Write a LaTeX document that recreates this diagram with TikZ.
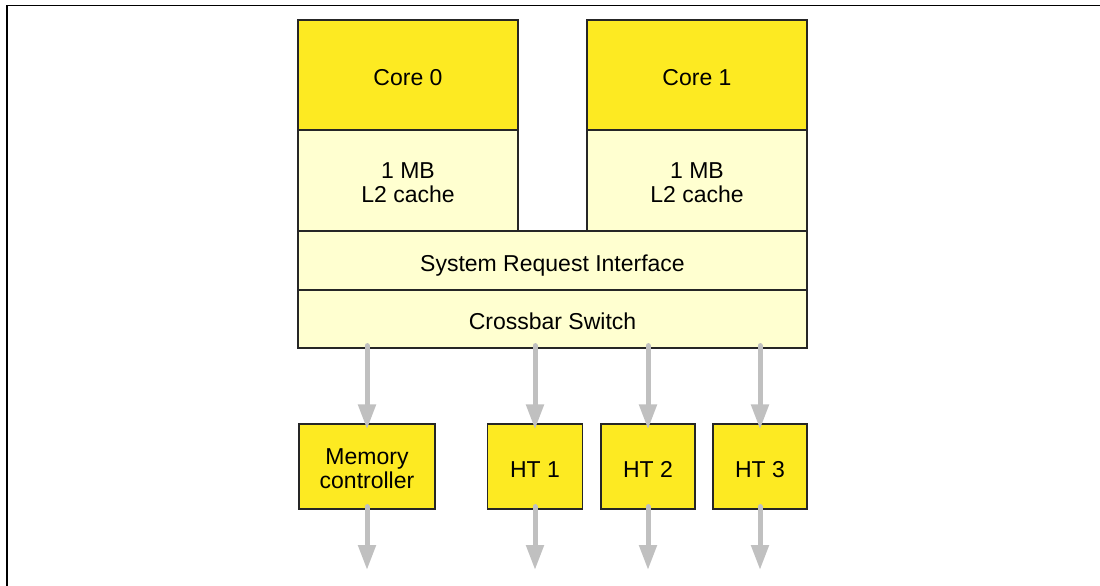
\documentclass[tikz,border=0pt]{standalone}
\usepackage{fontspec}
\setmainfont{Liberation Sans}
\definecolor{coreyellow}{RGB}{253, 234, 34}
\definecolor{cachecream}{RGB}{255, 255, 208}
\definecolor{linkgray}{RGB}{192, 192, 192}
\usetikzlibrary{arrows.meta, positioning, calc}

\begin{document}
\begin{tikzpicture}[x=1pt, y=-1pt,
  unitbox/.style={draw=black!85, line width=1.2pt, fill=coreyellow, inner sep=0pt, align=center, font=\fontsize{23}{24.5}\selectfont},
  cachebox/.style={unitbox, fill=cachecream},
  onerow/.style={text height=21.5pt, text depth=0pt},
  tworow/.style={text height=44.5pt, text depth=0pt},
  hlink/.style={draw=linkgray, line width=5pt, line cap=round, -{Triangle[width=17pt, length=25pt]}, shorten <=-3pt}
]
  \useasboundingbox (0,0) rectangle (1100,586);
  % Frame
  \draw[line width=1.3pt] (7,586) -- (7,5.3) -- (1100,5.3);

  % Cores and caches
  \node[unitbox, onerow, minimum width=220pt, minimum height=110pt] (core0) at (408,75) {Core 0};
  \node[unitbox, onerow, minimum width=220pt, minimum height=110pt] (core1) at (697,75) {Core 1};
  \node[cachebox, tworow, minimum width=220pt, minimum height=101pt] (l2a) at (408,180.5) {1 MB\\L2 cache};
  \node[cachebox, tworow, minimum width=220pt, minimum height=101pt] (l2b) at (697,180.5) {1 MB\\L2 cache};

  % Shared parts
  \node[cachebox, onerow, minimum width=509pt, minimum height=59pt] (sri) at (552.5,260.5) {System Request Interface};
  \node[cachebox, onerow, minimum width=509pt, minimum height=58pt] (xbar) at (552.5,319) {Crossbar Switch};

  % Links
  \node[unitbox, tworow, minimum width=136pt, minimum height=85pt] (mc) at (367,466.5) {Memory\\controller};
  \node[unitbox, onerow, minimum width=95pt, minimum height=85pt] (ht1) at (535,466.5) {HT 1};
  \node[unitbox, onerow, minimum width=94pt, minimum height=85pt] (ht2) at (648,466.5) {HT 2};
  \node[unitbox, onerow, minimum width=94pt, minimum height=85pt] (ht3) at (760,466.5) {HT 3};

  \coordinate (bottom) at (0,570);
  \foreach \u in {mc, ht1, ht2, ht3} {
    \draw[hlink, shorten >=-6pt] (xbar.south -| \u.north) -- (\u.north);
    \draw[hlink] (\u.south) -- (\u.south |- bottom);
  }
\end{tikzpicture}
\end{document}
